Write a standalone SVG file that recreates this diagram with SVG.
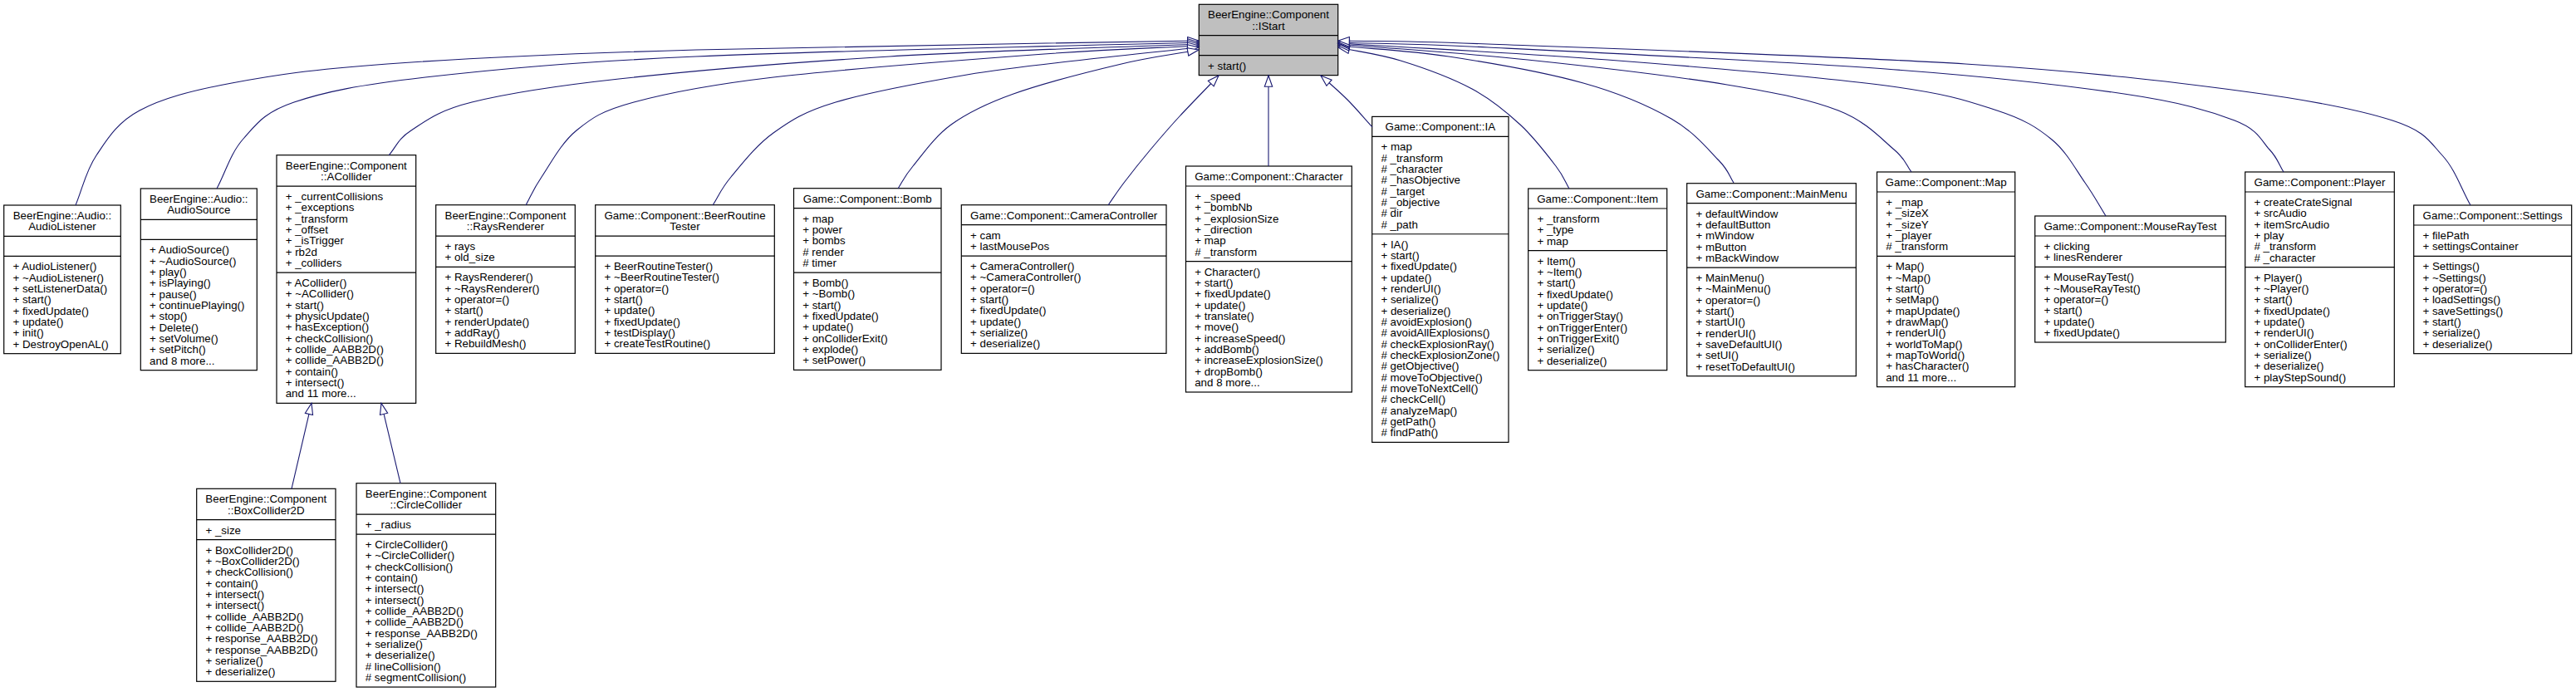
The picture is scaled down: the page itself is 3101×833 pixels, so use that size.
<svg xmlns="http://www.w3.org/2000/svg" width="3101" height="833" viewBox="0 0 3101 833">
<style>
text{font-family:"Liberation Sans",Arial,Helvetica,sans-serif;font-size:13.33px;fill:#000}
.c{text-anchor:middle}
.n rect{fill:#fff;stroke:#000;stroke-width:1.2}
.n path{fill:none;stroke:#000;stroke-width:1.2}
.e path{fill:none;stroke:#191970;stroke-width:1.1;marker-end:url(#arr)}
</style>
<defs>
<marker id="arr" markerUnits="userSpaceOnUse" viewBox="-1 -1 16 12" markerWidth="16" markerHeight="12" refX="13.3" refY="4.7" orient="auto">
<path d="M0,0 L13.3,4.7 L0,9.4 Z" fill="#fff" stroke="#191970" stroke-width="1.1"/>
</marker>
</defs>
<rect width="3101" height="833" fill="#fff"/>

<g id="n_IStart" class="n">
<rect x="1443.3" y="5.3" width="167.4" height="85.33" style="fill:#bfbfbf"/>
<path d="M1443.3,42.63h167.4M1443.3,66.63h167.4"/>
<text class="c" x="1527" y="22.3">BeerEngine::Component<tspan x="1527" dy="13.33">::IStart</tspan></text>
<text x="1454" y="83.63">+ start()</text>
</g>

<g id="n_AudioListener" class="n">
<rect x="4.7" y="247" width="140.6" height="178.67"/>
<path d="M4.7,284.33h140.6M4.7,308.33h140.6"/>
<text class="c" x="75" y="264">BeerEngine::Audio::<tspan x="75" dy="13.33">AudioListener</tspan></text>
<text x="15.4" y="325.33">+ AudioListener()<tspan x="15.4" dy="13.33">+ ~AudioListener()</tspan><tspan x="15.4" dy="13.33">+ setListenerData()</tspan><tspan x="15.4" dy="13.33">+ start()</tspan><tspan x="15.4" dy="13.33">+ fixedUpdate()</tspan><tspan x="15.4" dy="13.33">+ update()</tspan><tspan x="15.4" dy="13.33">+ init()</tspan><tspan x="15.4" dy="13.33">+ DestroyOpenAL()</tspan></text>
</g>

<g id="n_AudioSource" class="n">
<rect x="169.3" y="227" width="140" height="218.67"/>
<path d="M169.3,264.33h140M169.3,288.33h140"/>
<text class="c" x="239.3" y="244">BeerEngine::Audio::<tspan x="239.3" dy="13.33">AudioSource</tspan></text>
<text x="180" y="305.33">+ AudioSource()<tspan x="180" dy="13.33">+ ~AudioSource()</tspan><tspan x="180" dy="13.33">+ play()</tspan><tspan x="180" dy="13.33">+ isPlaying()</tspan><tspan x="180" dy="13.33">+ pause()</tspan><tspan x="180" dy="13.33">+ continuePlaying()</tspan><tspan x="180" dy="13.33">+ stop()</tspan><tspan x="180" dy="13.33">+ Delete()</tspan><tspan x="180" dy="13.33">+ setVolume()</tspan><tspan x="180" dy="13.33">+ setPitch()</tspan><tspan x="180" dy="13.33">and 8 more...</tspan></text>
</g>

<g id="n_ACollider" class="n">
<rect x="333" y="186.7" width="167.7" height="298.67"/>
<path d="M333,224.03h167.7M333,328.03h167.7"/>
<text class="c" x="416.85" y="203.7">BeerEngine::Component<tspan x="416.85" dy="13.33">::ACollider</tspan></text>
<text x="343.7" y="241.03">+ _currentCollisions<tspan x="343.7" dy="13.33">+ _exceptions</tspan><tspan x="343.7" dy="13.33">+ _transform</tspan><tspan x="343.7" dy="13.33">+ _offset</tspan><tspan x="343.7" dy="13.33">+ _isTrigger</tspan><tspan x="343.7" dy="13.33">+ rb2d</tspan><tspan x="343.7" dy="13.33">+ _colliders</tspan></text>
<text x="343.7" y="345.03">+ ACollider()<tspan x="343.7" dy="13.33">+ ~ACollider()</tspan><tspan x="343.7" dy="13.33">+ start()</tspan><tspan x="343.7" dy="13.33">+ physicUpdate()</tspan><tspan x="343.7" dy="13.33">+ hasException()</tspan><tspan x="343.7" dy="13.33">+ checkCollision()</tspan><tspan x="343.7" dy="13.33">+ collide_AABB2D()</tspan><tspan x="343.7" dy="13.33">+ collide_AABB2D()</tspan><tspan x="343.7" dy="13.33">+ contain()</tspan><tspan x="343.7" dy="13.33">+ intersect()</tspan><tspan x="343.7" dy="13.33">and 11 more...</tspan></text>
</g>

<g id="n_BoxCollider2D" class="n">
<rect x="236.7" y="588.3" width="167.3" height="232"/>
<path d="M236.7,625.63h167.3M236.7,649.63h167.3"/>
<text class="c" x="320.35" y="605.3">BeerEngine::Component<tspan x="320.35" dy="13.33">::BoxCollider2D</tspan></text>
<text x="247.4" y="642.63">+ _size</text>
<text x="247.4" y="666.63">+ BoxCollider2D()<tspan x="247.4" dy="13.33">+ ~BoxCollider2D()</tspan><tspan x="247.4" dy="13.33">+ checkCollision()</tspan><tspan x="247.4" dy="13.33">+ contain()</tspan><tspan x="247.4" dy="13.33">+ intersect()</tspan><tspan x="247.4" dy="13.33">+ intersect()</tspan><tspan x="247.4" dy="13.33">+ collide_AABB2D()</tspan><tspan x="247.4" dy="13.33">+ collide_AABB2D()</tspan><tspan x="247.4" dy="13.33">+ response_AABB2D()</tspan><tspan x="247.4" dy="13.33">+ response_AABB2D()</tspan><tspan x="247.4" dy="13.33">+ serialize()</tspan><tspan x="247.4" dy="13.33">+ deserialize()</tspan></text>
</g>

<g id="n_CircleCollider" class="n">
<rect x="429" y="581.7" width="167.7" height="245.33"/>
<path d="M429,619.03h167.7M429,643.03h167.7"/>
<text class="c" x="512.85" y="598.7">BeerEngine::Component<tspan x="512.85" dy="13.33">::CircleCollider</tspan></text>
<text x="439.7" y="636.03">+ _radius</text>
<text x="439.7" y="660.03">+ CircleCollider()<tspan x="439.7" dy="13.33">+ ~CircleCollider()</tspan><tspan x="439.7" dy="13.33">+ checkCollision()</tspan><tspan x="439.7" dy="13.33">+ contain()</tspan><tspan x="439.7" dy="13.33">+ intersect()</tspan><tspan x="439.7" dy="13.33">+ intersect()</tspan><tspan x="439.7" dy="13.33">+ collide_AABB2D()</tspan><tspan x="439.7" dy="13.33">+ collide_AABB2D()</tspan><tspan x="439.7" dy="13.33">+ response_AABB2D()</tspan><tspan x="439.7" dy="13.33">+ serialize()</tspan><tspan x="439.7" dy="13.33">+ deserialize()</tspan><tspan x="439.7" dy="13.33"># lineCollision()</tspan><tspan x="439.7" dy="13.33"># segmentCollision()</tspan></text>
</g>

<g id="n_RaysRenderer" class="n">
<rect x="524.7" y="246.7" width="167.6" height="178.67"/>
<path d="M524.7,284.03h167.6M524.7,321.37h167.6"/>
<text class="c" x="608.5" y="263.7">BeerEngine::Component<tspan x="608.5" dy="13.33">::RaysRenderer</tspan></text>
<text x="535.4" y="301.03">+ rays<tspan x="535.4" dy="13.33">+ old_size</tspan></text>
<text x="535.4" y="338.37">+ RaysRenderer()<tspan x="535.4" dy="13.33">+ ~RaysRenderer()</tspan><tspan x="535.4" dy="13.33">+ operator=()</tspan><tspan x="535.4" dy="13.33">+ start()</tspan><tspan x="535.4" dy="13.33">+ renderUpdate()</tspan><tspan x="535.4" dy="13.33">+ addRay()</tspan><tspan x="535.4" dy="13.33">+ RebuildMesh()</tspan></text>
</g>

<g id="n_BeerRoutineTester" class="n">
<rect x="716.7" y="246.7" width="215.6" height="178.67"/>
<path d="M716.7,284.03h215.6M716.7,308.03h215.6"/>
<text class="c" x="824.5" y="263.7">Game::Component::BeerRoutine<tspan x="824.5" dy="13.33">Tester</tspan></text>
<text x="727.4" y="325.03">+ BeerRoutineTester()<tspan x="727.4" dy="13.33">+ ~BeerRoutineTester()</tspan><tspan x="727.4" dy="13.33">+ operator=()</tspan><tspan x="727.4" dy="13.33">+ start()</tspan><tspan x="727.4" dy="13.33">+ update()</tspan><tspan x="727.4" dy="13.33">+ fixedUpdate()</tspan><tspan x="727.4" dy="13.33">+ testDisplay()</tspan><tspan x="727.4" dy="13.33">+ createTestRoutine()</tspan></text>
</g>

<g id="n_Bomb" class="n">
<rect x="955.5" y="226.7" width="177.5" height="218.67"/>
<path d="M955.5,250.7h177.5M955.5,328.03h177.5"/>
<text class="c" x="1044.25" y="243.7">Game::Component::Bomb</text>
<text x="966.2" y="267.7">+ map<tspan x="966.2" dy="13.33">+ power</tspan><tspan x="966.2" dy="13.33">+ bombs</tspan><tspan x="966.2" dy="13.33"># render</tspan><tspan x="966.2" dy="13.33"># timer</tspan></text>
<text x="966.2" y="345.03">+ Bomb()<tspan x="966.2" dy="13.33">+ ~Bomb()</tspan><tspan x="966.2" dy="13.33">+ start()</tspan><tspan x="966.2" dy="13.33">+ fixedUpdate()</tspan><tspan x="966.2" dy="13.33">+ update()</tspan><tspan x="966.2" dy="13.33">+ onColliderExit()</tspan><tspan x="966.2" dy="13.33">+ explode()</tspan><tspan x="966.2" dy="13.33">+ setPower()</tspan></text>
</g>

<g id="n_CameraController" class="n">
<rect x="1157.3" y="246.7" width="246.7" height="178.67"/>
<path d="M1157.3,270.7h246.7M1157.3,308.03h246.7"/>
<text class="c" x="1280.65" y="263.7">Game::Component::CameraController</text>
<text x="1168" y="287.7">+ cam<tspan x="1168" dy="13.33">+ lastMousePos</tspan></text>
<text x="1168" y="325.03">+ CameraController()<tspan x="1168" dy="13.33">+ ~CameraController()</tspan><tspan x="1168" dy="13.33">+ operator=()</tspan><tspan x="1168" dy="13.33">+ start()</tspan><tspan x="1168" dy="13.33">+ fixedUpdate()</tspan><tspan x="1168" dy="13.33">+ update()</tspan><tspan x="1168" dy="13.33">+ serialize()</tspan><tspan x="1168" dy="13.33">+ deserialize()</tspan></text>
</g>

<g id="n_Character" class="n">
<rect x="1427.5" y="200" width="199.8" height="272"/>
<path d="M1427.5,224h199.8M1427.5,314.67h199.8"/>
<text class="c" x="1527.4" y="217">Game::Component::Character</text>
<text x="1438.2" y="241">+ _speed<tspan x="1438.2" dy="13.33">+ _bombNb</tspan><tspan x="1438.2" dy="13.33">+ _explosionSize</tspan><tspan x="1438.2" dy="13.33">+ _direction</tspan><tspan x="1438.2" dy="13.33">+ map</tspan><tspan x="1438.2" dy="13.33"># _transform</tspan></text>
<text x="1438.2" y="331.67">+ Character()<tspan x="1438.2" dy="13.33">+ start()</tspan><tspan x="1438.2" dy="13.33">+ fixedUpdate()</tspan><tspan x="1438.2" dy="13.33">+ update()</tspan><tspan x="1438.2" dy="13.33">+ translate()</tspan><tspan x="1438.2" dy="13.33">+ move()</tspan><tspan x="1438.2" dy="13.33">+ increaseSpeed()</tspan><tspan x="1438.2" dy="13.33">+ addBomb()</tspan><tspan x="1438.2" dy="13.33">+ increaseExplosionSize()</tspan><tspan x="1438.2" dy="13.33">+ dropBomb()</tspan><tspan x="1438.2" dy="13.33">and 8 more...</tspan></text>
</g>

<g id="n_IA" class="n">
<rect x="1651.7" y="140.4" width="164.3" height="392"/>
<path d="M1651.7,164.4h164.3M1651.7,281.73h164.3"/>
<text class="c" x="1733.85" y="157.4">Game::Component::IA</text>
<text x="1662.4" y="181.4">+ map<tspan x="1662.4" dy="13.33"># _transform</tspan><tspan x="1662.4" dy="13.33"># _character</tspan><tspan x="1662.4" dy="13.33"># _hasObjective</tspan><tspan x="1662.4" dy="13.33"># _target</tspan><tspan x="1662.4" dy="13.33"># _objective</tspan><tspan x="1662.4" dy="13.33"># dir</tspan><tspan x="1662.4" dy="13.33"># _path</tspan></text>
<text x="1662.4" y="298.73">+ IA()<tspan x="1662.4" dy="13.33">+ start()</tspan><tspan x="1662.4" dy="13.33">+ fixedUpdate()</tspan><tspan x="1662.4" dy="13.33">+ update()</tspan><tspan x="1662.4" dy="13.33">+ renderUI()</tspan><tspan x="1662.4" dy="13.33">+ serialize()</tspan><tspan x="1662.4" dy="13.33">+ deserialize()</tspan><tspan x="1662.4" dy="13.33"># avoidExplosion()</tspan><tspan x="1662.4" dy="13.33"># avoidAllExplosions()</tspan><tspan x="1662.4" dy="13.33"># checkExplosionRay()</tspan><tspan x="1662.4" dy="13.33"># checkExplosionZone()</tspan><tspan x="1662.4" dy="13.33"># getObjective()</tspan><tspan x="1662.4" dy="13.33"># moveToObjective()</tspan><tspan x="1662.4" dy="13.33"># moveToNextCell()</tspan><tspan x="1662.4" dy="13.33"># checkCell()</tspan><tspan x="1662.4" dy="13.33"># analyzeMap()</tspan><tspan x="1662.4" dy="13.33"># getPath()</tspan><tspan x="1662.4" dy="13.33"># findPath()</tspan></text>
</g>

<g id="n_Item" class="n">
<rect x="1839.7" y="227" width="167" height="218.67"/>
<path d="M1839.7,251h167M1839.7,301.67h167"/>
<text class="c" x="1923.2" y="244">Game::Component::Item</text>
<text x="1850.4" y="268">+ _transform<tspan x="1850.4" dy="13.33">+ _type</tspan><tspan x="1850.4" dy="13.33">+ map</tspan></text>
<text x="1850.4" y="318.67">+ Item()<tspan x="1850.4" dy="13.33">+ ~Item()</tspan><tspan x="1850.4" dy="13.33">+ start()</tspan><tspan x="1850.4" dy="13.33">+ fixedUpdate()</tspan><tspan x="1850.4" dy="13.33">+ update()</tspan><tspan x="1850.4" dy="13.33">+ onTriggerStay()</tspan><tspan x="1850.4" dy="13.33">+ onTriggerEnter()</tspan><tspan x="1850.4" dy="13.33">+ onTriggerExit()</tspan><tspan x="1850.4" dy="13.33">+ serialize()</tspan><tspan x="1850.4" dy="13.33">+ deserialize()</tspan></text>
</g>

<g id="n_MainMenu" class="n">
<rect x="2030.7" y="220.7" width="203.6" height="232"/>
<path d="M2030.7,244.7h203.6M2030.7,322.03h203.6"/>
<text class="c" x="2132.5" y="237.7">Game::Component::MainMenu</text>
<text x="2041.4" y="261.7">+ defaultWindow<tspan x="2041.4" dy="13.33">+ defaultButton</tspan><tspan x="2041.4" dy="13.33">+ mWindow</tspan><tspan x="2041.4" dy="13.33">+ mButton</tspan><tspan x="2041.4" dy="13.33">+ mBackWindow</tspan></text>
<text x="2041.4" y="339.03">+ MainMenu()<tspan x="2041.4" dy="13.33">+ ~MainMenu()</tspan><tspan x="2041.4" dy="13.33">+ operator=()</tspan><tspan x="2041.4" dy="13.33">+ start()</tspan><tspan x="2041.4" dy="13.33">+ startUI()</tspan><tspan x="2041.4" dy="13.33">+ renderUI()</tspan><tspan x="2041.4" dy="13.33">+ saveDefaultUI()</tspan><tspan x="2041.4" dy="13.33">+ setUI()</tspan><tspan x="2041.4" dy="13.33">+ resetToDefaultUI()</tspan></text>
</g>

<g id="n_Map" class="n">
<rect x="2259.5" y="207" width="166.2" height="258.67"/>
<path d="M2259.5,231h166.2M2259.5,308.33h166.2"/>
<text class="c" x="2342.6" y="224">Game::Component::Map</text>
<text x="2270.2" y="248">+ _map<tspan x="2270.2" dy="13.33">+ _sizeX</tspan><tspan x="2270.2" dy="13.33">+ _sizeY</tspan><tspan x="2270.2" dy="13.33">+ _player</tspan><tspan x="2270.2" dy="13.33"># _transform</tspan></text>
<text x="2270.2" y="325.33">+ Map()<tspan x="2270.2" dy="13.33">+ ~Map()</tspan><tspan x="2270.2" dy="13.33">+ start()</tspan><tspan x="2270.2" dy="13.33">+ setMap()</tspan><tspan x="2270.2" dy="13.33">+ mapUpdate()</tspan><tspan x="2270.2" dy="13.33">+ drawMap()</tspan><tspan x="2270.2" dy="13.33">+ renderUI()</tspan><tspan x="2270.2" dy="13.33">+ worldToMap()</tspan><tspan x="2270.2" dy="13.33">+ mapToWorld()</tspan><tspan x="2270.2" dy="13.33">+ hasCharacter()</tspan><tspan x="2270.2" dy="13.33">and 11 more...</tspan></text>
</g>

<g id="n_MouseRayTest" class="n">
<rect x="2449.7" y="260" width="229.6" height="152"/>
<path d="M2449.7,284h229.6M2449.7,321.33h229.6"/>
<text class="c" x="2564.5" y="277">Game::Component::MouseRayTest</text>
<text x="2460.4" y="301">+ clicking<tspan x="2460.4" dy="13.33">+ linesRenderer</tspan></text>
<text x="2460.4" y="338.33">+ MouseRayTest()<tspan x="2460.4" dy="13.33">+ ~MouseRayTest()</tspan><tspan x="2460.4" dy="13.33">+ operator=()</tspan><tspan x="2460.4" dy="13.33">+ start()</tspan><tspan x="2460.4" dy="13.33">+ update()</tspan><tspan x="2460.4" dy="13.33">+ fixedUpdate()</tspan></text>
</g>

<g id="n_Player" class="n">
<rect x="2702.7" y="207" width="179.6" height="258.67"/>
<path d="M2702.7,231h179.6M2702.7,321.67h179.6"/>
<text class="c" x="2792.5" y="224">Game::Component::Player</text>
<text x="2713.4" y="248">+ createCrateSignal<tspan x="2713.4" dy="13.33">+ srcAudio</tspan><tspan x="2713.4" dy="13.33">+ itemSrcAudio</tspan><tspan x="2713.4" dy="13.33">+ play</tspan><tspan x="2713.4" dy="13.33"># _transform</tspan><tspan x="2713.4" dy="13.33"># _character</tspan></text>
<text x="2713.4" y="338.67">+ Player()<tspan x="2713.4" dy="13.33">+ ~Player()</tspan><tspan x="2713.4" dy="13.33">+ start()</tspan><tspan x="2713.4" dy="13.33">+ fixedUpdate()</tspan><tspan x="2713.4" dy="13.33">+ update()</tspan><tspan x="2713.4" dy="13.33">+ renderUI()</tspan><tspan x="2713.4" dy="13.33">+ onColliderEnter()</tspan><tspan x="2713.4" dy="13.33">+ serialize()</tspan><tspan x="2713.4" dy="13.33">+ deserialize()</tspan><tspan x="2713.4" dy="13.33">+ playStepSound()</tspan></text>
</g>

<g id="n_Settings" class="n">
<rect x="2905.7" y="247" width="190" height="178.67"/>
<path d="M2905.7,271h190M2905.7,308.33h190"/>
<text class="c" x="3000.7" y="264">Game::Component::Settings</text>
<text x="2916.4" y="288">+ filePath<tspan x="2916.4" dy="13.33">+ settingsContainer</tspan></text>
<text x="2916.4" y="325.33">+ Settings()<tspan x="2916.4" dy="13.33">+ ~Settings()</tspan><tspan x="2916.4" dy="13.33">+ operator=()</tspan><tspan x="2916.4" dy="13.33">+ loadSettings()</tspan><tspan x="2916.4" dy="13.33">+ saveSettings()</tspan><tspan x="2916.4" dy="13.33">+ start()</tspan><tspan x="2916.4" dy="13.33">+ serialize()</tspan><tspan x="2916.4" dy="13.33">+ deserialize()</tspan></text>
</g>

<g id="connectors" class="e">
<path d="M91,247 C99.3,227 103.2,206 116,187 S140.8,147.5 168,133 S229.3,109.3 279,100 S372.8,83.7 466,77 S675.2,64.7 838,60 S1241.3,52.7 1443,49"/>
<path d="M261,227 C271.7,207 277.5,184.3 293,167 S317.5,135.3 354,123 S431.3,102.2 512,93 S682.8,75 838,68 S1241.3,56.7 1443,51"/>
<path d="M468,187 C477,177 478.3,167.7 495,157 S526.3,133.3 568,123 S661.2,104.2 745,95 S954.7,75 1071,68 S1319,58 1443,53"/>
<path d="M633,247 C639.3,235.7 641.8,228 652,213 S675.5,172 694,157 S723.5,133.7 763,123 S848.7,102.7 931,93 S1171.7,71.3 1257,65 S1381,58.3 1443,55"/>
<path d="M858,247 C865.3,235.7 867.8,227.5 880,213 S910,175 931,160 S967.2,134.7 1006,123 S1114.3,98.5 1164,90 S1257.5,77.5 1304,72 S1396.7,62 1443,57"/>
<path d="M1081,227 C1087,218 1088.3,212.8 1099,200 S1124.8,164.5 1145,150 S1185.8,125.2 1220,113 S1312.8,85.8 1350,77 S1412,65.7 1443,60"/>
<path d="M1334,247 C1340.3,238 1344.5,231.2 1353,220 S1373.8,193.3 1385,180 S1406.3,154.8 1420,140 S1451.3,107.3 1467,91"/>
<path d="M1527,200 L1527,91"/>
<path d="M1652,153 C1641,141 1633,131 1622,120 S1598,98 1590,91"/>
<path d="M1889,227 C1883.7,218 1882.8,212.8 1873,200 S1846.8,165.5 1830,150 S1796,119.8 1772,107 S1712.8,81.3 1686,73 S1636,62.3 1611,57"/>
<path d="M2087,220 C2081,211 2081.5,205.8 2069,193 S2039.2,158.5 2012,143 S1950.7,112.5 1906,100 S1793.2,75.5 1744,68 S1655.3,59.3 1611,55"/>
<path d="M2301,207 C2294,198 2294.7,192.3 2280,180 S2246.5,146 2213,133 S2141.3,112.2 2079,102 S1917,80.2 1839,72 S1687,59.3 1611,53"/>
<path d="M2535,260 C2526.7,246.7 2520.8,235.3 2510,220 S2487.7,182.5 2470,168 S2437.3,143.8 2404,133 S2348.2,113.2 2270,103 S2044.8,80.5 1935,72 S1719,58.7 1611,52"/>
<path d="M2749,207 C2743.3,198 2741.8,190.3 2732,180 S2719.2,156.2 2690,145 S2627,123.3 2557,113 S2397.7,92.3 2270,83 S1900.8,62.3 1791,57 S1671,53 1611,51"/>
<path d="M2974,247 C2962.7,227 2955.7,204 2940,187 S2919.8,157.8 2880,145 S2786.7,121.3 2701,110 S2517.7,86.5 2366,77 S1916.8,57.7 1791,53 S1671,50.3 1611,49"/>
<path d="M351,588.3 L375,485.4"/>
<path d="M482,581.7 L459,485.4"/>
</g>
</svg>
